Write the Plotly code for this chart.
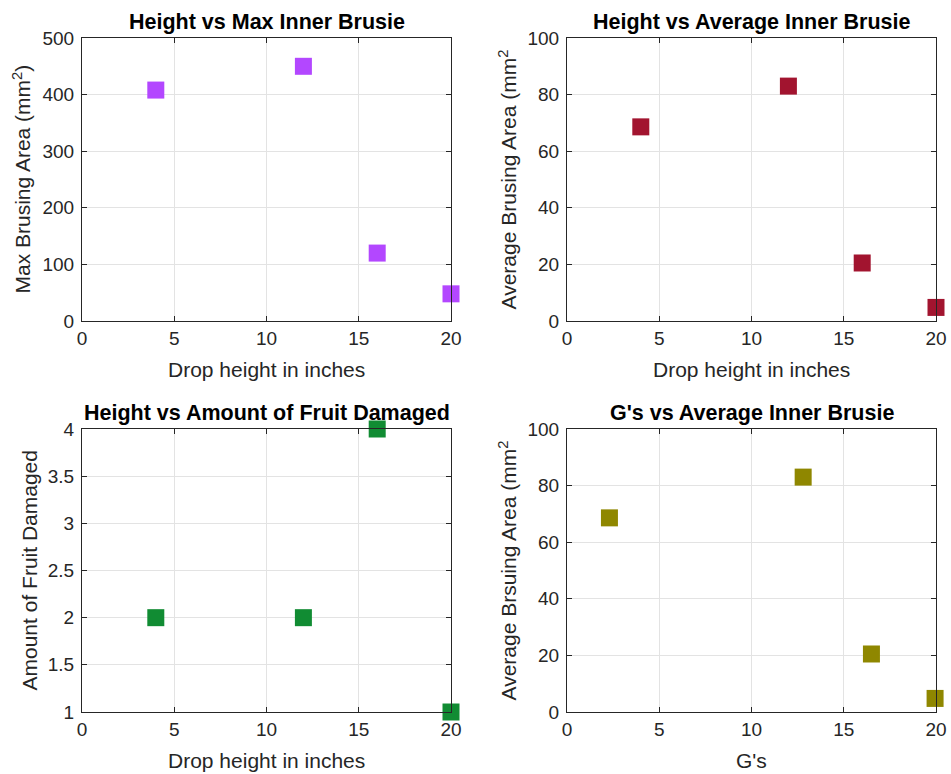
import plotly.graph_objects as go

# Data
height_in = [4, 12, 16, 20]
max_bruise = [408, 450, 120, 48]
avg_bruise = [68.6, 83.0, 20.5, 4.8]
fruit_damaged = [2, 2, 4, 1]
g_values = [2.3, 12.8, 16.5, 19.95]
avg_bruise_g = [68.6, 83.0, 20.5, 4.8]

titles = ["Height vs Max Inner Brusie", "Height vs Average Inner Brusie",
          "Height vs Amount of Fruit Damaged", "G's vs Average Inner Brusie"]
xlabels = ["Drop height in inches", "Drop height in inches",
           "Drop height in inches", "G's"]
ylabels = ["Max Brusing Area (mm<sup>2</sup>)", "Average Brusing Area (mm<sup>2</sup>",
           "Amount of Fruit Damaged", "Average Brsuing Area (mm<sup>2</sup>"]
colors = ["#B347FF", "#A2142F", "#118C33", "#8F8700"]

W, H = 951, 774
font = "Liberation Sans, Arial, Helvetica, sans-serif"

# panel pixel boxes (left, right, top, bottom)
boxes = [(82, 451, 38, 321), (567, 936, 38, 321),
         (82, 451, 429, 712), (567, 936, 429, 712)]
yranges = [[0, 500], [0, 100], [1, 4], [0, 100]]
ydticks = [100, 20, 0.5, 20]
ylabel_x = [21, 507, 29, 507]

series = [(height_in, max_bruise), (height_in, avg_bruise),
          (height_in, fruit_damaged), (g_values, avg_bruise_g)]

fig = go.Figure()
layout = dict(width=W, height=H,
              margin=dict(l=0, r=0, t=0, b=0, pad=0, autoexpand=False),
              paper_bgcolor="white", plot_bgcolor="white", showlegend=False,
              font=dict(family=font, size=19, color="#262626"))
annotations = []
for i in range(4):
    l, r, t, b = boxes[i]
    xs = "" if i == 0 else str(i + 1)
    xa, ya = "xaxis" + xs, "yaxis" + xs
    axis_common = dict(showline=True, linecolor="#262626", linewidth=1, mirror="ticks",
                       ticks="inside", ticklen=5, tickcolor="#262626",
                       showgrid=True, gridcolor="#E3E3E3", gridwidth=1,
                       zeroline=False, automargin=False,
                       tickfont=dict(size=19, color="#262626", family=font))
    layout[xa] = dict(domain=[l / W, r / W], range=[0, 20], dtick=5, tick0=0,
                      anchor="y" + xs, **axis_common)
    layout[ya] = dict(domain=[1 - b / H, 1 - t / H], range=yranges[i], dtick=ydticks[i],
                      anchor="x" + xs, ticklabelstandoff=3, **axis_common)
    x, y = series[i]
    fig.add_trace(go.Scatter(x=x, y=y, mode="markers", xaxis="x" + xs, yaxis="y" + xs,
                             cliponaxis=False,
                             marker=dict(symbol="square", size=17, color=colors[i],
                                         line=dict(width=0))))
    cx = (l + r) / 2
    annotations.append(dict(text="<b>" + titles[i] + "</b>", x=cx / W, y=1 - (t - 2) / H,
                            xref="paper", yref="paper", xanchor="center", yanchor="bottom",
                            showarrow=False, font=dict(size=21.5, color="black", family=font)))
    annotations.append(dict(text=xlabels[i], x=cx / W, y=1 - (b + 35) / H,
                            xref="paper", yref="paper", xanchor="center", yanchor="top",
                            showarrow=False, font=dict(size=21, color="#262626", family=font)))
    annotations.append(dict(text=ylabels[i], x=ylabel_x[i] / W, y=1 - ((t + b) / 2) / H,
                            xref="paper", yref="paper", xanchor="center", yanchor="middle",
                            textangle=-90, showarrow=False,
                            font=dict(size=21, color="#262626", family=font)))
layout["annotations"] = annotations
fig.update_layout(**layout)
fig.write_html("out.html",
               config={"displayModeBar": False},
               post_script="document.body.style.margin='0px';"
                           "document.body.style.overflow='hidden';")
